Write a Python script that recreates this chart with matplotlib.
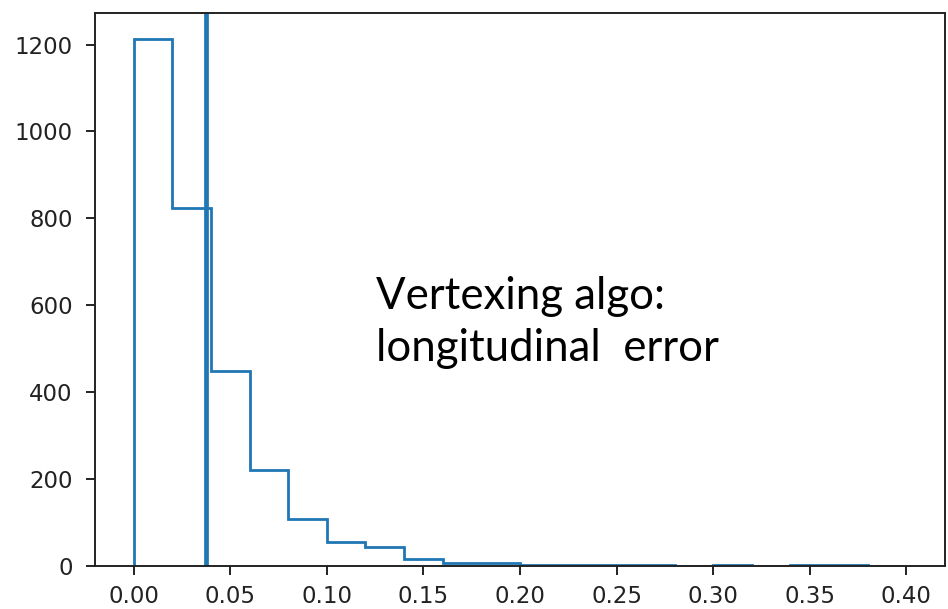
import numpy as np
import matplotlib
matplotlib.use("Agg")
import matplotlib.pyplot as plt

# histogram of longitudinal vertex error, 20 bins of width 0.02 over [0, 0.4]
bin_edges = [round(0.02 * i, 2) for i in range(21)]
counts = [1212, 823, 448, 220, 109, 55, 44, 15, 8, 8,
          3, 2, 2, 2, 0, 2, 0, 2, 2, 0]
mean_error = 0.0373

label = "Vertexing algo:\nlongitudinal  error"

fig = plt.figure(figsize=(9.48, 6.09), dpi=100)
ax = fig.add_axes([0.1002, 0.0706, 0.8966, 0.9081])

centers = np.array(bin_edges[:-1]) + 0.01
ax.hist(centers, bins=bin_edges, weights=counts, histtype="step",
        color="C0", linewidth=2.0)
ax.axvline(mean_error, color="C0", linewidth=3.4)

ax.set_xticks([0.0, 0.05, 0.10, 0.15, 0.20, 0.25, 0.30, 0.35, 0.40])
ax.set_xticklabels(["0.00", "0.05", "0.10", "0.15", "0.20",
                    "0.25", "0.30", "0.35", "0.40"])
ax.set_yticks([0, 200, 400, 600, 800, 1000, 1200])

ax.tick_params(labelsize=16.5, length=6.5, width=1.4, colors="#222222")
ax.tick_params(axis="x", pad=7)
ax.tick_params(axis="y", pad=9.5)
for spine in ax.spines.values():
    spine.set_linewidth(1.4)
    spine.set_color("#222222")

ax.text(0.1255, 667, label, fontsize=31.5, family="Lato",
        va="top", ha="left", linespacing=1.34, color="black")

fig.savefig("out.png", dpi=100)
